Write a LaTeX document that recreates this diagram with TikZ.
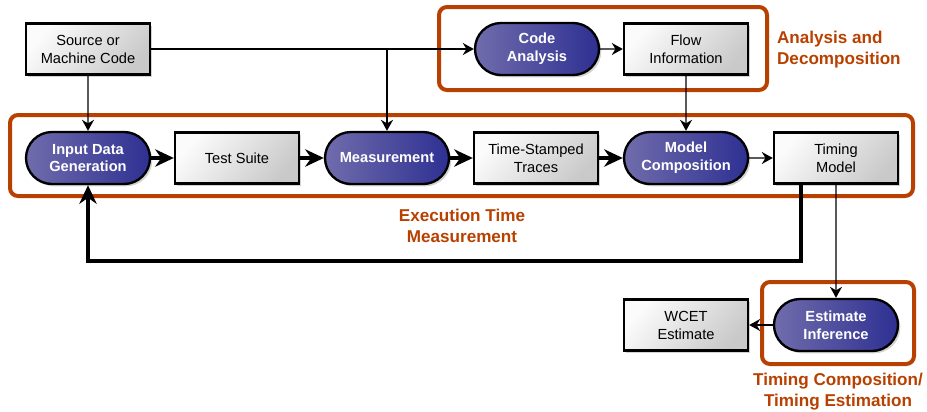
\documentclass[tikz,border=0pt]{standalone}
\usepackage{fontspec}
\setmainfont{Liberation Sans}
\usetikzlibrary{calc}
\usetikzlibrary{arrows.meta}
\usetikzlibrary{shadows}
\usetikzlibrary{shapes.misc}
\definecolor{frameorange}{RGB}{184,64,0}
\definecolor{pillleft}{RGB}{112,108,172}
\definecolor{pillright}{RGB}{46,48,146}
\tikzset{framebox/.style={draw=frameorange,line width=1.2mm,rounded corners=2.4mm}}

\begin{document}
\begin{tikzpicture}[x=0.3mm,y=-0.3mm]
  % some styles
  \tikzset{
    databox/.style={
      rectangle,
      draw=black,
      line width=2pt,
      minimum width=37.2mm,
      minimum height=15.3mm,
      inner sep=0mm,
      align=center,
      font=\fontsize{12.5}{15.3}\selectfont,
      top color=gray!3,
      bottom color=gray!42,
      shading angle=50,
      drop shadow={shadow xshift=0.7mm,shadow yshift=-0.7mm,opacity=0.35}
    }
  }
  \tikzset{process/.style={rounded rectangle,draw=black,line width=2pt,
      minimum width=37.2mm,minimum height=15.6mm,inner sep=0mm,align=center,
      font=\fontsize{12.5}{15.3}\selectfont\bfseries,text=white,
      left color=pillleft,right color=pillright,
      drop shadow={shadow xshift=0.7mm,shadow yshift=-0.7mm,opacity=0.35}}}
  \tikzset{thinarrow/.style={-{Stealth[length=3.3mm,width=3.6mm]},line width=1.2pt}}
  \tikzset{thickarrow/.style={-{Stealth[length=5.6mm,width=5.2mm]},line width=3.4pt}}
  \tikzset{grouplabel/.style={text=frameorange,font=\fontsize{14.6}{17.9}\selectfont\bfseries}}

\useasboundingbox (0,0) rectangle (927,411);

% group frames
\draw[framebox] (439,7) rectangle (767,90);
\draw[framebox] (10,115) rectangle (913,196);
\draw[framebox] (762,282) rectangle (914,364);

\node[grouplabel,anchor=west,align=left] (lblana) at (773,50) {Analysis and\\Decomposition};
\node[grouplabel,align=center] (lblexe) at (462,226) {Execution Time\\Measurement};
\node[grouplabel,align=center] (lbltim) at (838,392) {Timing Composition/\\Timing Estimation};

% nodes
\node[databox] (src) at (88,49) {Source or\\Machine Code};
\node[process] (codean) at (537,49) {Code\\Analysis};
\node[databox] (flowinfo) at (686,49) {Flow\\Information};

\node[process] (inputgen) at (88,158) {Input Data\\Generation};
\node[databox] (testsuite) at (237,158) {Test Suite};
\node[process] (meas) at (387,158) {Measurement};
\node[databox] (traces) at (536,158) {Time-Stamped\\Traces};
\node[process] (modelcomp) at (686,158) {Model\\Composition};
\node[databox] (timingmodel) at (836,158) {Timing\\Model};

\node[process] (estinf) at (836,325) {Estimate\\Inference};
\node[databox] (wcet) at (686,325) {WCET\\Estimate};

\coordinate (fbout) at ($(timingmodel.south west)!0.22!(timingmodel.south east)$);
\coordinate (loopy) at (0,261);

% connectors
\draw[thinarrow] (src) -- (codean);
\draw[thinarrow] (meas.north |- src.east) -- (meas.north);
\draw[thinarrow] (src) -- (inputgen);
\draw[thinarrow] (codean) -- (flowinfo);
\draw[thinarrow] (flowinfo) -- (modelcomp);
\draw[thickarrow] (inputgen) -- (testsuite);
\draw[thickarrow] (testsuite) -- (meas);
\draw[thickarrow] (meas) -- (traces);
\draw[thickarrow] (traces) -- (modelcomp);
\draw[thinarrow] (modelcomp) -- (timingmodel);
\draw[thinarrow] (timingmodel) -- (estinf);
\draw[thinarrow] (estinf) -- (wcet);
\draw[thickarrow] (fbout) -- (fbout |- loopy) -| (inputgen.south);

\end{tikzpicture}
\end{document}
